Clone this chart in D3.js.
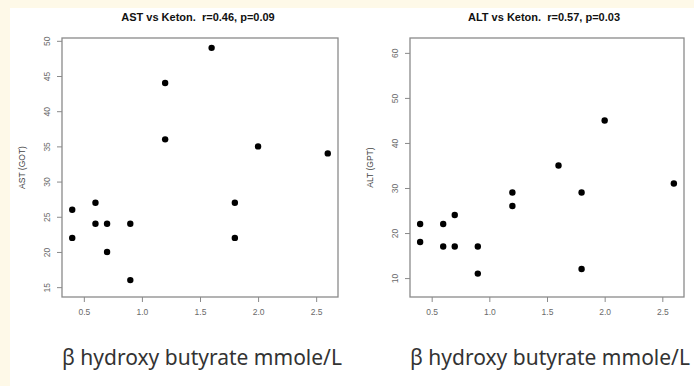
<!DOCTYPE html>
<html>
<head>
<meta charset="utf-8">
<script src="https://cdn.jsdelivr.net/npm/d3@7"></script>
<style>
  body { margin: 0; background: #fef9e8; }
  svg { display: block; }
</style>
</head>
<body>
<svg id="chart" width="694" height="386"></svg>
<script>
// β hydroxy butyrate (mmole/L) for each patient
const ketone = [0.4, 0.4, 0.6, 0.6, 0.7, 0.7, 0.9, 0.9, 1.2, 1.2, 1.6, 1.8, 1.8, 2.0, 2.6];
// AST (GOT) values, same order
const ast = [26, 22, 27, 24, 24, 20, 24, 16, 44, 36, 49, 27, 22, 35, 34];
// ALT (GPT) values, same order
const alt = [22, 18, 22, 17, 24, 17, 17, 11, 29, 26, 35, 29, 12, 45, 31];

const xTicks = [0.5, 1.0, 1.5, 2.0, 2.5];
const astTicks = [15, 20, 25, 30, 35, 40, 45, 50];
const altTicks = [10, 20, 30, 40, 50, 60];

const svg = d3.select('#chart');

// white sheet over the cream page
svg.append('rect')
    .attr('x', 10).attr('y', 8)
    .attr('width', 694).attr('height', 386)
    .attr('fill', '#fff');

const panels = [
    { title: 'AST vs Keton.  r=0.46, p=0.09', ylab: 'AST (GOT)', ys: ast, ticks: astTicks,
      left: 62, right: 338, ydom: [13.6, 50.4], tcx: 198 },
    { title: 'ALT vs Keton.  r=0.57, p=0.03', ylab: 'ALT (GPT)', ys: alt, ticks: altTicks,
      left: 410, right: 684, ydom: [5.8, 63.3], tcx: 544 }
];
const boxTop = 38, boxBottom = 297;

panels.forEach(p => {
    const x = d3.scaleLinear().domain([0.312, 2.688]).range([p.left, p.right]);
    const y = d3.scaleLinear().domain(p.ydom).range([boxBottom, boxTop]);
    const g = svg.append('g');

    // plot box
    g.append('rect')
        .attr('x', p.left).attr('y', boxTop)
        .attr('width', p.right - p.left).attr('height', boxBottom - boxTop)
        .attr('fill', 'none').attr('stroke', '#8a8a8a').attr('stroke-width', 1.3);

    // x axis
    const xa = g.append('g')
        .attr('transform', `translate(0,${boxBottom})`)
        .call(d3.axisBottom(x).tickValues(xTicks).tickFormat(d3.format('.1f')).tickSize(5).tickPadding(7));
    xa.select('.domain').remove();
    xa.selectAll('line').attr('stroke', '#8a8a8a');
    xa.selectAll('text').attr('fill', '#6a6a6a').style('font', '8.5px "Liberation Sans", Arial, sans-serif');

    // y axis (labels parallel to axis, as in R)
    const ya = g.append('g')
        .attr('transform', `translate(${p.left},0)`)
        .call(d3.axisLeft(y).tickValues(p.ticks).tickSize(5).tickPadding(0));
    ya.select('.domain').remove();
    ya.selectAll('line').attr('stroke', '#8a8a8a');
    ya.selectAll('text')
        .attr('fill', '#6a6a6a')
        .attr('x', 0).attr('dy', 0)
        .attr('text-anchor', 'middle')
        .attr('transform', 'translate(-12,0) rotate(-90)')
        .style('font', '8.5px "Liberation Sans", Arial, sans-serif');

    // points
    g.selectAll('circle')
        .data(ketone.map((k, i) => [k, p.ys[i]]))
        .join('circle')
        .attr('cx', d => x(d[0]))
        .attr('cy', d => y(d[1]))
        .attr('r', 3.2)
        .attr('fill', '#000');

    // title
    g.append('text')
        .attr('x', p.tcx).attr('y', 21)
        .attr('text-anchor', 'middle')
        .attr('fill', '#111')
        .style('white-space', 'pre')
        .style('font', 'bold 11px "Liberation Sans", Arial, sans-serif')
        .text(p.title);

    // y label
    g.append('text')
        .attr('transform', `translate(${p.left - 37},${(boxTop + boxBottom) / 2}) rotate(-90)`)
        .attr('text-anchor', 'middle')
        .attr('fill', '#444')
        .style('font', '8.5px "Liberation Sans", Arial, sans-serif')
        .text(p.ylab);

    // x label
    g.append('text')
        .attr('x', p.left).attr('y', 365)
        .attr('fill', '#333')
        .style('font', '21px "Noto Sans", sans-serif')
        .text('β hydroxy butyrate mmole/L');
});
</script>
</body>
</html>
